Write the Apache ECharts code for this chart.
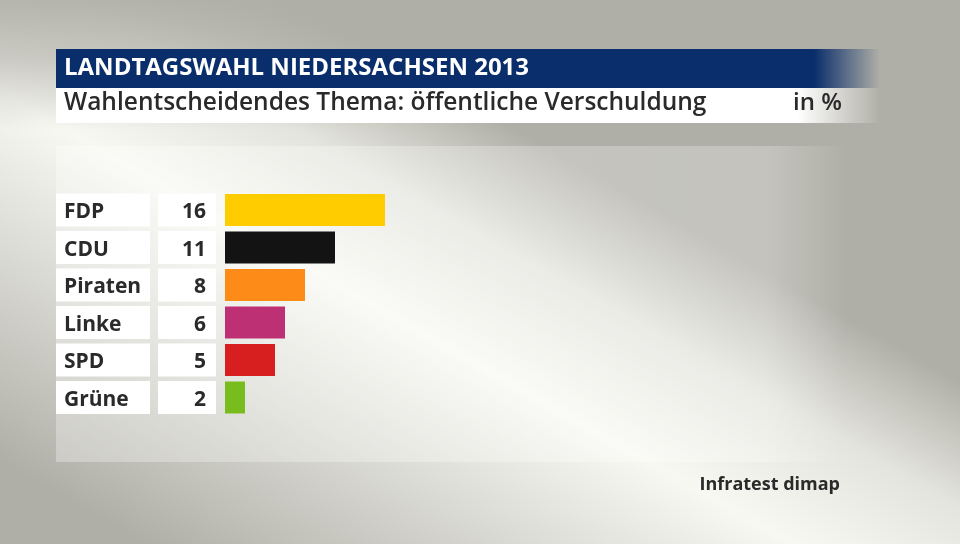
<!DOCTYPE html>
<html>
<head>
<meta charset="utf-8">
<script src="https://cdn.jsdelivr.net/npm/echarts@6/dist/echarts.min.js"></script>
<style>
    html, body { margin: 0; padding: 0; }
    #main { width: 960px; height: 544px; }
</style>
</head>
<body>
<div id="main"></div>
<script>
    // Daten
    var parteien = ['FDP', 'CDU', 'Piraten', 'Linke', 'SPD', 'Grüne'];
    var werte = [16, 11, 8, 6, 5, 2];
    var farben = ['#ffcc00', '#131313', '#fd8b17', '#bd3074', '#d71f1f', '#78bc1e'];

    var titel = 'LANDTAGSWAHL NIEDERSACHSEN 2013';
    var untertitel = 'Wahlentscheidendes Thema: öffentliche Verschuldung';
    var einheit = 'in %';
    var quelle = 'Infratest dimap';

    var FONT = "'Open Sans', 'Noto Sans', sans-serif";
    var GRAU = '#b0afa7';

    var myChart = echarts.init(document.getElementById('main'));

    var option = {
        animation: false,
        graphic: [
            // hintergrund: heller diagonaler streifen von oben links nach unten rechts
            {
                type: 'rect', z: -10, silent: true,
                shape: {x: 0, y: 0, width: 960, height: 544},
                style: {
                    fill: new echarts.graphic.LinearGradient(267, 613, 583, 57, [
                        {offset: 0, color: GRAU},
                        {offset: 0.3, color: '#dcdcd6'},
                        {offset: 0.5, color: '#f8f8f3'},
                        {offset: 0.68, color: '#e4e4de'},
                        {offset: 0.85, color: GRAU},
                        {offset: 1, color: GRAU}
                    ], true)
                }
            },
            // oben etwas dunkler
            {
                type: 'rect', z: -10, silent: true,
                shape: {x: 0, y: 0, width: 960, height: 130},
                style: {
                    fill: new echarts.graphic.LinearGradient(0, 0, 0, 1, [
                        {offset: 0, color: 'rgba(176,175,167,0.9)'},
                        {offset: 0.45, color: 'rgba(176,175,167,0.6)'},
                        {offset: 1, color: 'rgba(176,175,167,0)'}
                    ])
                }
            },
            // helles feld hinter dem diagramm
            {
                type: 'rect', z: -9, silent: true,
                shape: {x: 56, y: 146, width: 790, height: 316},
                style: {
                    fill: new echarts.graphic.LinearGradient(0, 0, 1, 0, [
                        {offset: 0, color: 'rgba(255,255,255,0.3)'},
                        {offset: 0.9, color: 'rgba(255,255,255,0.25)'},
                        {offset: 1, color: 'rgba(255,255,255,0)'}
                    ])
                }
            },
            // blauer titelbalken
            {
                type: 'rect', z: -8, silent: true,
                shape: {x: 56, y: 49, width: 824, height: 39},
                style: {
                    fill: new echarts.graphic.LinearGradient(0, 0, 1, 0, [
                        {offset: 0, color: '#0a2e6b'},
                        {offset: 0.92, color: '#0a2e6b'},
                        {offset: 1, color: 'rgba(10,46,107,0)'}
                    ])
                }
            },
            // weisser untertitelbalken
            {
                type: 'rect', z: -8, silent: true,
                shape: {x: 56, y: 88, width: 824, height: 35},
                style: {
                    fill: new echarts.graphic.LinearGradient(0, 0, 1, 0, [
                        {offset: 0, color: '#ffffff'},
                        {offset: 0.9, color: '#ffffff'},
                        {offset: 1, color: 'rgba(255,255,255,0)'}
                    ])
                }
            },
            {
                type: 'text', left: 64, top: 56,
                style: {text: titel, fill: '#ffffff', font: 'bold 24px ' + FONT}
            },
            {
                type: 'text', left: 64, top: 91,
                style: {text: untertitel, fill: '#2a2a2a', font: '600 24.5px ' + FONT}
            },
            {
                type: 'text', left: 793, top: 91,
                style: {text: einheit, fill: '#2a2a2a', font: '600 24px ' + FONT}
            },
            {
                type: 'text', right: 120, top: 476,
                style: {text: quelle, fill: '#2a2a2a', font: 'bold 18px ' + FONT}
            }
        ],
        grid: {
            left: 225,
            top: 191.25,
            width: 160,     // 10px pro prozentpunkt
            height: 225
        },
        xAxis: {
            type: 'value',
            min: 0,
            max: 16,
            show: false
        },
        yAxis: {
            type: 'category',
            data: parteien,
            inverse: true,
            axisLine: {show: false},
            axisTick: {show: false},
            splitLine: {show: false},
            axisLabel: {
                margin: 9,
                formatter: function (value, idx) {
                    return '{n|' + value + '}{g|}{v|' + werte[idx] + '}';
                },
                rich: {
                    n: {
                        width: 86, height: 28, lineHeight: 28,
                        padding: [5, 0, 0, 8],
                        align: 'left',
                        backgroundColor: '#ffffff',
                        color: '#2a2a2a',
                        fontFamily: FONT, fontSize: 21, fontWeight: 'bold'
                    },
                    g: {width: 8, height: 28},
                    v: {
                        width: 48, height: 28, lineHeight: 28,
                        padding: [5, 10, 0, 0],
                        align: 'right',
                        backgroundColor: '#ffffff',
                        color: '#2a2a2a',
                        fontFamily: FONT, fontSize: 21, fontWeight: 'bold'
                    }
                }
            }
        },
        series: [{
            type: 'bar',
            barWidth: 32,
            data: werte.map(function (w, i) {
                return {value: w, itemStyle: {color: farben[i]}};
            })
        }]
    };

    myChart.setOption(option);
</script>
</body>
</html>
